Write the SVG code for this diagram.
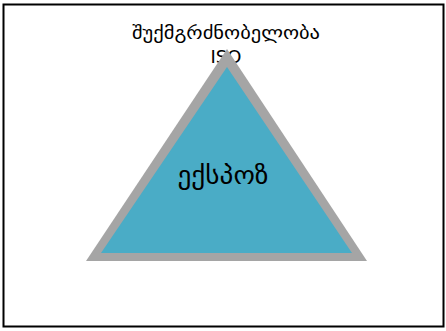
<svg xmlns="http://www.w3.org/2000/svg" width="446" height="331" viewBox="0 0 446 331">
<style>
.t{font-family:"DejaVu Sans","Noto Sans",sans-serif;fill:#000;text-anchor:middle}
</style>
<rect x="0" y="0" width="446" height="331" fill="#fff"/>
<rect x="3.5" y="4.5" width="440" height="322" fill="none" stroke="#000" stroke-width="2"/>
<g id="title">
<text class="t" x="226" y="39" font-size="18" textLength="188" lengthAdjust="spacingAndGlyphs">შუქმგრძნობელობა</text>
<text class="t" x="226" y="63" font-size="18">ISO</text>
</g>
<g id="triangle">
<polygon points="227,49 86,261 367,261" fill="#a5a5a5"/>
<polygon points="227,67 101,253 352,253" fill="#4aacc6"/>
<text class="t" x="223" y="184" font-size="25" textLength="91" lengthAdjust="spacingAndGlyphs">ექსპოზ</text>
</g>
</svg>
